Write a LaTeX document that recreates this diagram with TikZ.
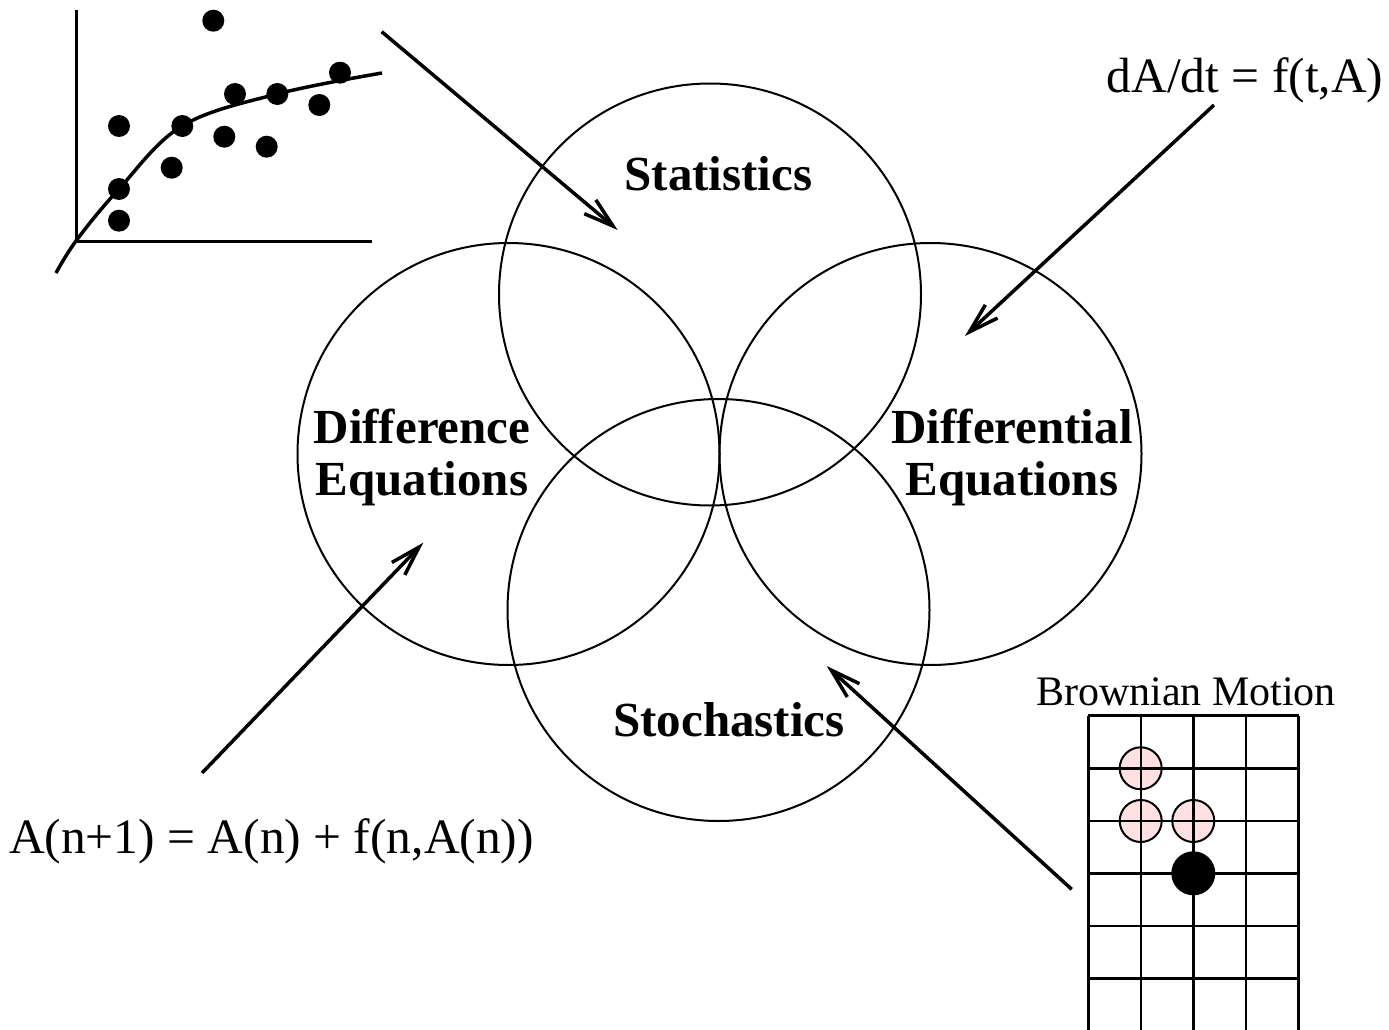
\documentclass[tikz,border=0pt]{standalone}
\usepackage{fontspec}
\setmainfont{Liberation Serif}
\usetikzlibrary{arrows.meta}

\definecolor{walkpink}{RGB}{255,225,225}
\tikzset{every picture/.style={line width=2pt}}
\tikzset{
  setcircle/.style={draw, circle, minimum size=422pt, inner sep=0pt, line width=2pt},
  areatext/.style={font=\fontsize{49}{52}\selectfont\bfseries, align=center, inner sep=0pt, anchor=base},
  formula/.style={font=\fontsize{49.5}{52}\selectfont, inner sep=0pt, anchor=base},
  pointer/.style={line width=3.5pt, -{Straight Barb[length=30pt,width=18pt]}},
  datadot/.style={circle, fill=black, inner sep=0pt, minimum size=22pt},
  walker/.style={circle, draw, fill=walkpink, inner sep=0pt, minimum size=42pt, line width=2pt},
  gridline/.style={line width=2.5pt},
}

\begin{document}
\begin{tikzpicture}[x=1pt,y=1pt,yscale=-1,xscale=1]
\useasboundingbox (0,0) rectangle (1389,1030);

% Venn circles
\node [setcircle] (stat) at (710,294.5) {};
\node [setcircle] (diffc) at (508.5,454) {};
\node [setcircle] (diffl) at (930.5,454) {};
\node [setcircle] (stoch) at (718.5,610) {};

% Text Node
\node [areatext] (stattext) at (718.5,190) {Statistics};
% Text Node
\node [areatext] (diffctext) at (422,495) {Difference\\Equations};
% Text Node
\node [areatext] (diffltext) at (1012,495) {Differential\\Equations};
% Text Node
\node [areatext] (stochtext) at (729,736) {Stochastics};
% Text Node
\node [formula] (ode) at (1245,93) {dA/dt = f(t,A)};
% Text Node
\node [formula] (recur) at (271.5,853) {A(n+1) = A(n) + f(n,A(n))};
% Text Node
\node [formula, font=\fontsize{42}{46}\selectfont] (brown) at (1186,705) {Brownian Motion};

% Scatter plot
\draw [line width=3pt] (76.7,10) -- (76.7,241.7) -- (371.7,241.7);
\draw [line width=3.5pt] plot [smooth, tension=0.6] coordinates {(56,273) (76.7,240) (119,189) (182,126) (277,94) (382,73)};
\foreach \px/\py [count=\i] in {213.3/20.7, 119/126, 182.3/126, 171.7/167.7, 119/189, 119/220.7, 224.3/136.7, 235/94, 266.7/146.7, 277.3/94, 319.3/105, 340/72.7}
  \node [datadot] (pt\i) at (\px,\py) {};

% Random walk grid
\node [walker] (walka) at (1140.7,768.3) {};
\node [walker] (walkb) at (1140.7,821) {};
\node [walker] (walkc) at (1193.3,821) {};
\foreach \i in {0,...,4}
  \draw [gridline] (1088.3+\i*52.6,715.7) -- (1088.3+\i*52.6,1032);
\foreach \j in {0,...,5}
  \draw [gridline] (1088.3,715.7+\j*52.6) -- (1298.7,715.7+\j*52.6);
\node [circle, fill=black, inner sep=0pt, minimum size=44pt] (walknow) at (1193.3,873.3) {};

% Pointers
\coordinate (plotend) at (381.7,31.7);
\coordinate (statin) at (617.7,230);
\coordinate (odefoot) at (1214,105);
\coordinate (diffin) at (965,336);
\coordinate (recurtop) at (202,773);
\coordinate (diffcin) at (423.3,542.7);
\coordinate (gridside) at (1071.7,889.3);
\coordinate (stochin) at (826.7,666);
\draw [pointer] (plotend) -- (statin);
\draw [pointer] (odefoot) -- (diffin);
\draw [pointer] (recurtop) -- (diffcin);
\draw [pointer] (gridside) -- (stochin);

\end{tikzpicture}
\end{document}
